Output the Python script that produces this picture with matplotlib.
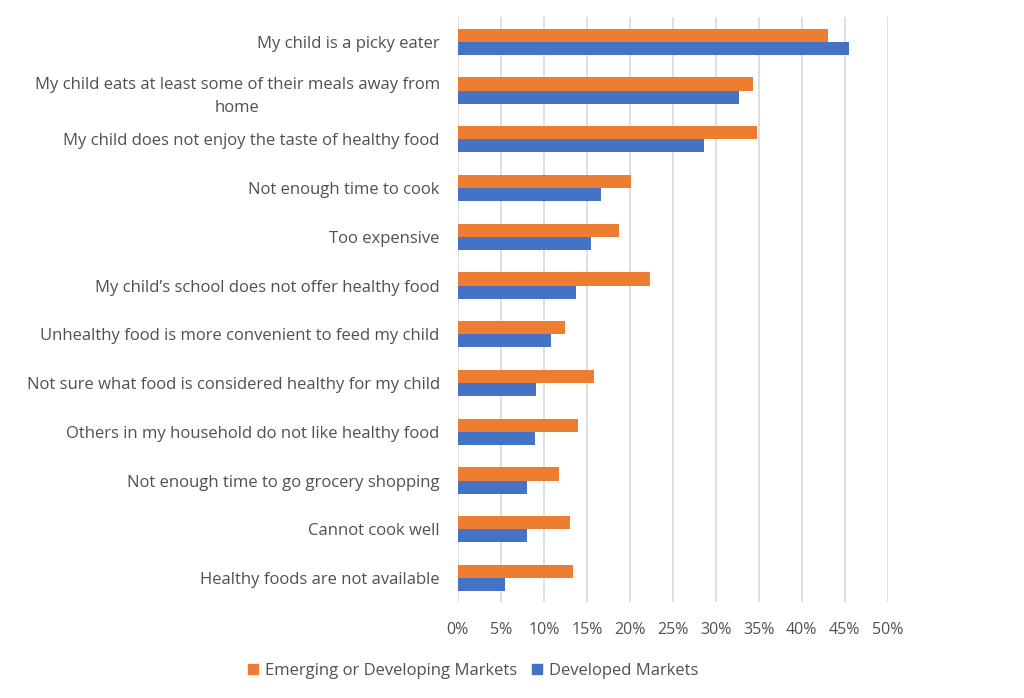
import matplotlib.pyplot as plt
import numpy as np
from matplotlib.ticker import PercentFormatter
from matplotlib.patches import Patch

plt.rcParams['font.family'] = ['Open Sans', 'DejaVu Sans']

categories = [
    "My child is a picky eater",
    "My child eats at least some of their meals away from\nhome",
    "My child does not enjoy the taste of healthy food",
    "Not enough time to cook",
    "Too expensive",
    "My child\u2019s school does not offer healthy food",
    "Unhealthy food is more convenient to feed my child",
    "Not sure what food is considered healthy for my child",
    "Others in my household do not like healthy food",
    "Not enough time to go grocery shopping",
    "Cannot cook well",
    "Healthy foods are not available",
]
emerging = [43.0, 34.3, 34.8, 20.1, 18.8, 22.4, 12.5, 15.8, 14.0, 11.8, 13.1, 13.4]
developed = [45.5, 32.7, 28.6, 16.6, 15.5, 13.8, 10.8, 9.1, 9.0, 8.0, 8.0, 5.5]
series_names = ["Emerging or Developing Markets", "Developed Markets"]

orange = "#ED7D31"
blue = "#4472C4"
text_col = "#505050"

fig = plt.figure(figsize=(10.24, 6.98), dpi=100)
ax = fig.add_axes([0.447, 0.137, 0.42, 0.838])

y = np.arange(len(categories))
h = 0.27
ax.barh(y - h / 2, emerging, height=h, color=orange, zorder=3)
ax.barh(y + h / 2, developed, height=h, color=blue, zorder=3)

ax.set_ylim(len(categories) - 0.5, -0.5)
ax.set_xlim(0, 50)
ax.set_xticks(np.arange(0, 51, 5))
ax.xaxis.set_major_formatter(PercentFormatter(decimals=0))
ax.set_yticks(y)
ax.set_yticklabels(categories, multialignment='center', linespacing=1.6)
ax.tick_params(axis='y', length=0, labelsize=12, labelcolor=text_col, pad=13)
ax.tick_params(axis='x', length=0, labelsize=11.5, labelcolor=text_col, pad=14)

ax.grid(axis='x', color='#D9D9D9', linewidth=1.2, zorder=0)
for s in ax.spines.values():
    s.set_visible(False)

handles = [Patch(color=orange), Patch(color=blue)]
fig.legend(handles, series_names, loc='center', bbox_to_anchor=(0.462, 0.039),
           ncol=2, frameon=False, fontsize=12, labelcolor=text_col,
           handlelength=0.6, handleheight=0.6, handletextpad=0.4, columnspacing=0.9)

fig.savefig("out.png", dpi=100)
